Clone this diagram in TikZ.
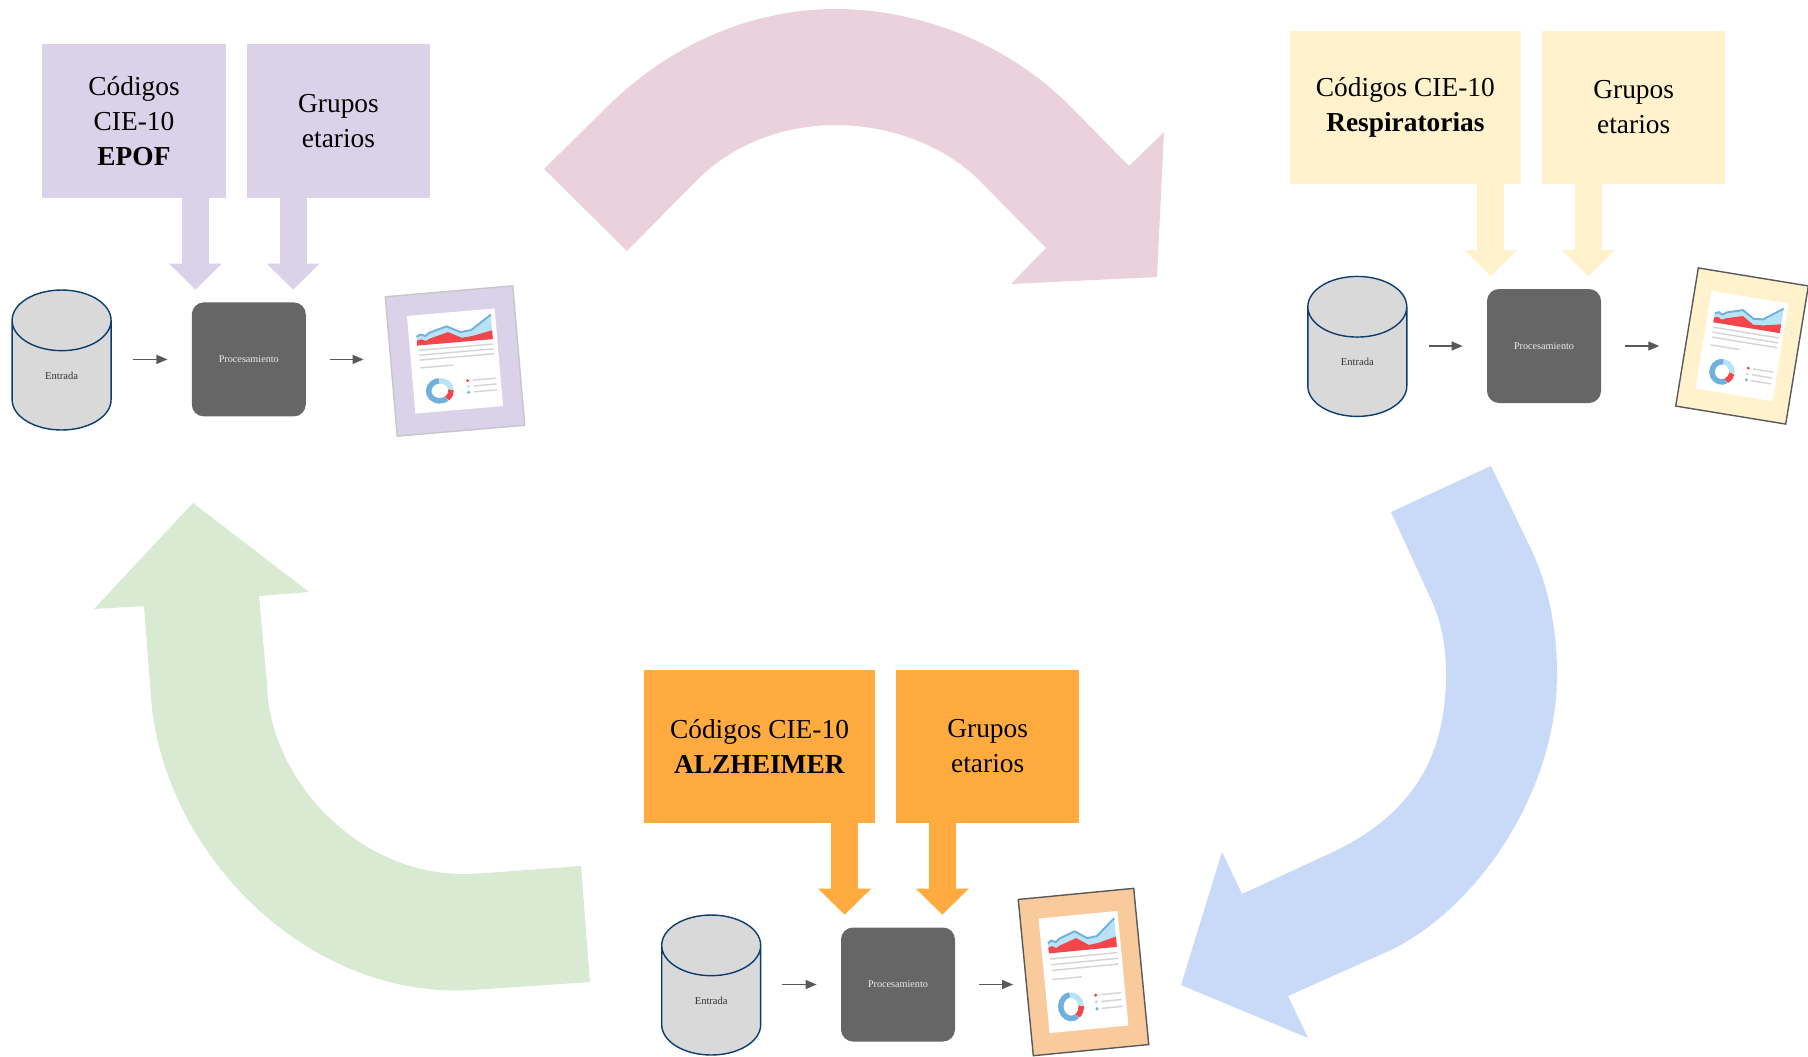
\documentclass[tikz,border=0pt]{standalone}
\usepackage{fontspec}
\setmainfont{Liberation Serif}
\usetikzlibrary{arrows.meta}
\usetikzlibrary{shapes.geometric}

\definecolor{lilac}{HTML}{D9D2E9}
\definecolor{cream}{HTML}{FFF2CC}
\definecolor{amber}{HTML}{FFAB40}
\definecolor{peach}{HTML}{F9CB9C}
\definecolor{rose}{HTML}{EAD1DC}
\definecolor{sky}{HTML}{C9DAF8}
\definecolor{mint}{HTML}{D9EAD3}
\definecolor{navy}{HTML}{0B3D6E}
\definecolor{slate}{HTML}{666666}
\definecolor{chartRed}{HTML}{F2464B}
\definecolor{chartBlue}{HTML}{6FB1DC}
\definecolor{chartLight}{HTML}{B9E3F5}

\begin{document}
\begin{tikzpicture}
[x=0.02cm,y=-0.02cm,%
  codeBox/.style={fill=#1,minimum height=3.07cm,inner sep=0pt,align=center,font=\fontsize{15.6}{19.9}\selectfont},%
  feed/.style={draw=#1,line width=0.54cm,-{Triangle[width=1.06cm,length=0.52cm,line width=0pt]}},%
  dataStore/.style={cylinder,shape border rotate=90,aspect=1.85,anchor=shape center,draw=navy,line width=0.8pt,fill=black!15,minimum width=1.98cm,minimum height=2.8cm,inner sep=0pt,font=\fontsize{6}{7}\selectfont,text=black!80},%
  procBox/.style={fill=slate,rounded corners=0.24cm,minimum size=2.28cm,inner sep=0pt,font=\fontsize{5.8}{7}\selectfont,text=black!8},%
  flow/.style={draw=black!65,line width=0.7pt,-{Triangle[length=0.22cm,width=0.18cm]}},%
  docFrame/.style={fill=#1,line width=0.8pt,inner sep=0pt},%
  docpage/.pic={
    \fill[white] (-40,-50) rectangle (40,50);
    \fill[chartLight] (-33,-28) -- (-29,-30) -- (-25,-28) -- (-21,-31) -- (-5,-36)
      -- (7,-29) -- (17,-30) -- (36,-44) -- (36,-19) -- (-33,-19) -- cycle;
    \fill[chartRed] (-33,-24) -- (-29,-25) -- (-25,-23) -- (-21,-25) -- (-4,-30)
      -- (8,-23) -- (18,-24) -- (36,-28) -- (36,-19) -- (-33,-19) -- cycle;
    \draw[chartBlue,line width=1.1pt,line join=round] (-33,-28) -- (-29,-30) -- (-25,-28)
      -- (-21,-31) -- (-5,-36) -- (7,-29) -- (17,-30) -- (36,-44);
    \foreach \y/\x in {-14/36,-9/36,-4/36,4/-2}
      \draw[black!17,line width=0.8pt] (-32,\y) -- (\x,\y);
    \draw[chartBlue,line width=0.11cm] (-16,29) ++(55:10.25) arc[start angle=55,end angle=270,radius=10.25];
    \draw[chartLight,line width=0.11cm] (-16,29) ++(270:10.25) arc[start angle=270,end angle=360,radius=10.25];
    \draw[chartRed,line width=0.11cm] (-16,29) ++(0:10.25) arc[start angle=0,end angle=55,radius=10.25];
    \foreach \y/\c in {21/chartRed,27/chartLight,33/chartBlue}{
      \fill[\c] (10,\y) circle[radius=1.6];
      \draw[black!17,line width=0.8pt] (15,\y) -- (36,\y);
    }
  }]
\useasboundingbox (0,0) rectangle (1808,1056);

%% cycle arrows
\fill[rose] (544,169) -- (611,103) .. controls (679,38) and (760,9) .. (836,9)
  .. controls (912,9) and (1000,38) .. (1067,103) -- (1129,166) -- (1164,132)
  -- (1157,277) -- (1011,284) -- (1046,248) -- (981,182)
  .. controls (941,141) and (882,125) .. (836,125)
  .. controls (790,125) and (736,140) .. (695,182) -- (627,251) -- cycle;
\fill[sky] (1491,466) -- (1530,547) .. controls (1548,584) and (1557,628) .. (1557,674)
  .. controls (1557,790) and (1480,905) .. (1393,949) -- (1288,996) -- (1308,1038)
  -- (1181,985) -- (1222,852) -- (1242,894) -- (1333,852)
  .. controls (1410,815) and (1446,760) .. (1446,674)
  .. controls (1446,645) and (1441,620) .. (1430,597) -- (1391,512) -- cycle;
\fill[mint] (590,982) -- (581,866) -- (472,874) .. controls (355,878) and (268,775) .. (267,683)
  -- (259,596) -- (309,592) -- (193,503) -- (94,609) -- (144,606) -- (151,697)
  .. controls (162,850) and (305,1000) .. (472,990) -- cycle;

%% EPOF
\node[codeBox=lilac,minimum width=3.67cm] (c1) at (134,121) {Códigos\\CIE-10\\\textbf{EPOF}};
\node[codeBox=lilac,minimum width=3.66cm] (g1) at (338.5,121) {Grupos\\etarios};
\node[dataStore] (in1) at (61.6,360) {Entrada};
\node[procBox] (p1) at (248.8,359.4) {Procesamiento};
\node[docFrame=lilac,draw=black!22,rotate=4.9,minimum width=2.56cm,minimum height=2.8cm] (r1) at (455,361) {};
\pic[rotate=4.9,xscale=1.1,yscale=0.98] at (r1) {docpage};
\coordinate (a1) at ([xshift=0.08cm,yshift=0.25cm]p1.north west);
\coordinate (b1) at ([xshift=-0.26cm,yshift=0.25cm]p1.north east);
\draw[feed=lilac] ([yshift=2pt]c1.south -| a1) -- (a1);
\draw[feed=lilac] ([yshift=2pt]g1.south -| b1) -- (b1);
\draw[flow,shorten <=0.42cm,shorten >=0.48cm] (p1 -| in1.east) -- (p1.west);
\draw[flow,shorten <=0.47cm,shorten >=0.54cm] (p1.east) -- (p1.east -| r1.west);

%% Respiratorias
\node[codeBox=cream,minimum width=4.61cm] (c2) at (1405.4,107.5) {Códigos CIE-10\\\textbf{Respiratorias}};
\node[codeBox=cream,minimum width=3.66cm] (g2) at (1633.7,107.5) {Grupos\\etarios};
\node[dataStore] (in2) at (1357.3,346.4) {Entrada};
\node[procBox] (p2) at (1544,346) {Procesamiento};
\node[docFrame=cream,draw=black!65,rotate=-9.3,minimum width=2.23cm,minimum height=2.8cm] (r2) at (1742,346) {};
\pic[rotate=-9.3,xscale=0.975,yscale=0.99] at (r2) {docpage};
\coordinate (a2) at ([xshift=0.08cm,yshift=0.25cm]p2.north west);
\coordinate (b2) at ([xshift=-0.26cm,yshift=0.25cm]p2.north east);
\draw[feed=cream] ([yshift=2pt]c2.south -| a2) -- (a2);
\draw[feed=cream] ([yshift=2pt]g2.south -| b2) -- (b2);
\draw[flow,shorten <=0.42cm,shorten >=0.48cm] (p2 -| in2.east) -- (p2.west);
\draw[flow,shorten <=0.47cm,shorten >=0.54cm] (p2.east) -- (p2.east -| r2.west);

%% Alzheimer
\node[codeBox=amber,minimum width=4.62cm] (c3) at (759.5,746.3) {Códigos CIE-10\\\textbf{ALZHEIMER}};
\node[codeBox=amber,minimum width=3.67cm] (g3) at (987.7,746.3) {Grupos\\etarios};
\node[dataStore] (in3) at (711.2,985) {Entrada};
\node[procBox] (p3) at (898,984.5) {Procesamiento};
\node[docFrame=peach,draw=black!65,rotate=5.5,minimum width=2.32cm,minimum height=3.14cm] (r3) at (1083.5,972) {};
\pic[rotate=5.5,xscale=0.99,yscale=1.15] at (r3) {docpage};
\coordinate (a3) at ([xshift=0.08cm,yshift=0.25cm]p3.north west);
\coordinate (b3) at ([xshift=-0.26cm,yshift=0.25cm]p3.north east);
\draw[feed=amber] ([yshift=2pt]c3.south -| a3) -- (a3);
\draw[feed=amber] ([yshift=2pt]g3.south -| b3) -- (b3);
\draw[flow,shorten <=0.42cm,shorten >=0.48cm] (p3 -| in3.east) -- (p3.west);
\draw[flow,shorten <=0.47cm,shorten >=0.24cm] (p3.east) -- (p3.east -| r3.west);
\end{tikzpicture}
\end{document}
